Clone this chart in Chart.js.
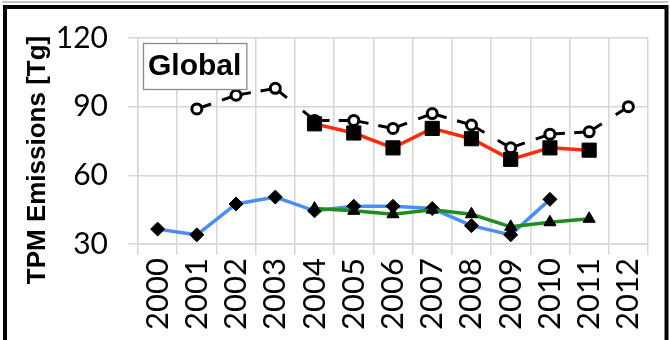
<!DOCTYPE html>
<html>
<head>
<meta charset="utf-8">
<script src="https://cdn.jsdelivr.net/npm/chart.js@4.4.0/dist/chart.umd.min.js"></script>
<style>
  html, body { margin: 0; padding: 0; background: #fff; }
</style>
</head>
<body>
<canvas id="chart" width="670" height="340"></canvas>
<script>
// data
const years = ["2000", "2001", "2002", "2003", "2004", "2005", "2006", "2007", "2008", "2009", "2010", "2011", "2012"];
const circleSeries = [null, 89, 95, 98, 84, 84, 80.5, 87, 82, 72, 78, 79, 90];
const squareSeries = [null, null, null, null, 82.5, 78.5, 72, 80.5, 76, 67, 72, 71, null];
const diamondSeries = [36.5, 34, 47.5, 50.5, 44.5, 46.5, 46.5, 45.5, 38, 34, 49.5, null, null];
const triangleSeries = [null, null, null, null, 45.5, 44.5, 43, 45, 43, 37.5, 39.5, 41, null];
const yTicks = [30, 60, 90, 120];

const yTitle = "TPM Emissions [Tg]";
const regionLabel = "Global";

const gridColor = "#d6d6d6";

// title, "Global" box and outer frame
const decorations = {
  id: "decorations",
  beforeDraw(chart) {
    const ctx = chart.ctx;
    ctx.save();
    ctx.fillStyle = "#fff";
    ctx.fillRect(0, 0, chart.width, chart.height);
    ctx.restore();
  },
  afterDraw(chart) {
    const { ctx, chartArea } = chart;
    ctx.save();

    // label box in the top left corner of the plot
    ctx.font = "bold 30px 'Liberation Sans'";
    const w = ctx.measureText(regionLabel).width;
    const bx = chartArea.left + 5, by = chartArea.top + 5;
    ctx.fillStyle = "#fff";
    ctx.fillRect(bx, by, w + 10, 46);
    ctx.strokeStyle = "#8a8a8a";
    ctx.lineWidth = 1.3;
    ctx.strokeRect(bx + 0.5, by + 0.5, w + 10, 46);
    ctx.fillStyle = "#000";
    ctx.textBaseline = "middle";
    ctx.fillText(regionLabel, bx + 5, by + 24);

    // rotated y axis title
    ctx.save();
    ctx.translate(45, 160);
    ctx.rotate(-Math.PI / 2);
    ctx.font = "bold 26px 'Liberation Sans'";
    ctx.textAlign = "center";
    ctx.textBaseline = "alphabetic";
    ctx.fillText(yTitle, 0, 0);
    ctx.restore();

    // outer frame
    ctx.strokeStyle = "#c4c4c4";
    ctx.lineWidth = 2;
    ctx.beginPath();
    ctx.moveTo(2, 2);
    ctx.lineTo(668, 2);
    ctx.stroke();
    ctx.strokeStyle = "#000";
    ctx.lineWidth = 4;
    ctx.beginPath();
    ctx.moveTo(5, 400);
    ctx.lineTo(5, 7);
    ctx.lineTo(666.5, 7);
    ctx.lineTo(666.5, 400);
    ctx.stroke();

    ctx.restore();
  }
};

// short stubs at both ends of each segment, like the long-dash line of the reference
function stubDash(ctx) {
  const len = Math.hypot(ctx.p1.x - ctx.p0.x, ctx.p1.y - ctx.p0.y);
  return [15, Math.max(len - 30, 0), 15, 400];
}

new Chart(document.getElementById("chart"), {
  type: "line",
  data: {
    labels: years,
    datasets: [
      {
        data: squareSeries,
        borderColor: "#ff2a0a",
        borderWidth: 3.5,
        pointStyle: "rect",
        pointRadius: 10,
        pointBackgroundColor: "#000",
        pointBorderColor: "#000",
        pointBorderWidth: 1,
      },
      {
        data: circleSeries,
        borderColor: "#000",
        borderWidth: 3,
        segment: {
          borderDash: stubDash,
          borderDashOffset: (ctx) => (ctx.p0DataIndex % 2 ? 0 : 0.01),
        },
        pointStyle: "circle",
        pointRadius: 5,
        pointBackgroundColor: "#fff",
        pointBorderColor: "#000",
        pointBorderWidth: 3,
      },
      {
        data: triangleSeries,
        borderColor: "#1e8c1e",
        borderWidth: 3.5,
        pointStyle: "triangle",
        pointRadius: 7,
        pointBackgroundColor: "#000",
        pointBorderColor: "#000",
        pointBorderWidth: 1,
      },
      {
        data: diamondSeries,
        borderColor: "#4a8ff9",
        borderWidth: 3.5,
        pointStyle: "rectRot",
        pointRadius: 7,
        pointBackgroundColor: "#000",
        pointBorderColor: "#000",
        pointBorderWidth: 1,
      },
    ],
  },
  options: {
    responsive: false,
    animation: false,
    events: [],
    layout: { padding: { left: 0, right: 22, top: 27, bottom: 0 } },
    plugins: {
      legend: { display: false },
      tooltip: { enabled: false },
    },
    scales: {
      x: {
        offset: true,
        afterFit: (scale) => { scale.height = 96; },
        grid: { offset: true, color: gridColor, lineWidth: 1.5, tickLength: 11 },
        border: { color: gridColor, width: 1.5 },
        ticks: {
          autoSkip: false,
          minRotation: 90,
          maxRotation: 90,
          padding: 3,
          color: "#000",
          font: { family: "Lato", size: 31 },
        },
      },
      y: {
        min: 30,
        max: 120,
        afterFit: (scale) => { scale.width = 138; },
        afterBuildTicks: (scale) => { scale.ticks = yTicks.map((v) => ({ value: v })); },
        grid: { color: gridColor, lineWidth: 1.5, tickLength: 10 },
        border: { color: gridColor, width: 1.5 },
        ticks: {
          padding: 20,
          color: "#000",
          font: { family: "Lato", size: 30 },
        },
      },
    },
  },
  plugins: [decorations],
});
</script>
</body>
</html>
